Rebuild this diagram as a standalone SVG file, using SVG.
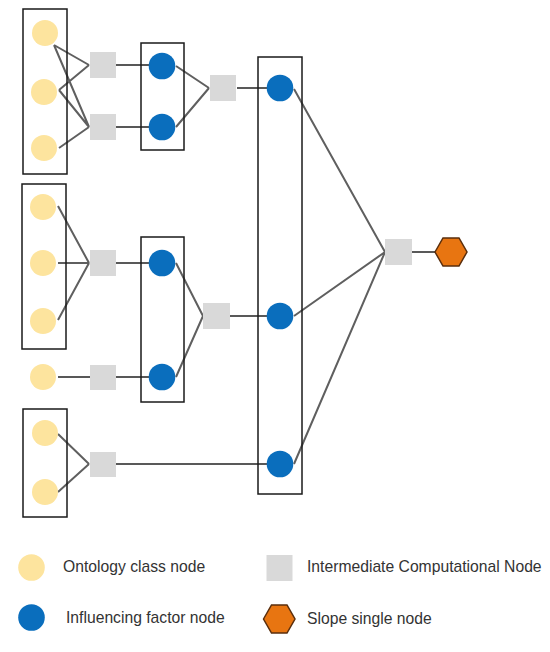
<svg xmlns="http://www.w3.org/2000/svg" width="550" height="652" viewBox="0 0 550 652">
<style>
.box{fill:none;stroke:#1a1a1a;stroke-width:1.5}
.onto{fill:#FDE49E}
.inf{fill:#0A6EBD}
.icn{fill:#D9D9D9}
.slope{fill:#E87511;stroke:#5A2E0C;stroke-width:1.5}
.c{fill:none;stroke:#5f5f5f;stroke-width:2}
.s{fill:none;stroke:#222;stroke-width:1.5}
text{font-family:"Liberation Sans",Arial,sans-serif;font-size:15.7px;fill:#333}
</style>
<rect width="550" height="652" fill="#fff"/>
<g id="connectors">
<path class="c" d="M54,45 L89,65 M54,45 L89,127 M59,90 L89,65 M59,90 L89,127 M59,148 L89,127"/>
<path class="s" d="M116,65 H149 M116,127 H149"/>
<path class="c" d="M176,66 L209,88 M176,127 L209,88"/>
<path class="s" d="M237,88 H267"/>
<path class="c" d="M58,206 L89,263 M58,263 L89,263 M58,320 L89,263"/>
<path class="s" d="M116,263 H149"/>
<path class="s" d="M58,377 H90 M116,377 H149"/>
<path class="c" d="M176,263 L203,316 M176,377 L203,316"/>
<path class="s" d="M230,316 H267"/>
<path class="c" d="M58,434 L89,464 M58,492 L89,464"/>
<path class="s" d="M116,464 H267"/>
<path class="c" d="M294,89 L385,252 M294,316 L385,252 M294,464 L385,252"/>
<path class="s" d="M412,252 H436"/>
</g>
<g id="group1">
<rect class="box" x="23" y="9" width="44" height="165"/>
<circle class="onto" cx="45" cy="33" r="13"/>
<circle class="onto" cx="44" cy="92" r="13"/>
<circle class="onto" cx="44" cy="148" r="13"/>
</g>
<g id="icn1"><rect class="icn" x="90" y="52" width="26" height="26"/></g>
<g id="icn2"><rect class="icn" x="90" y="114" width="26" height="26"/></g>
<g id="group2">
<rect class="box" x="141" y="43" width="43" height="107"/>
<circle class="inf" cx="162" cy="66" r="13.3"/>
<circle class="inf" cx="162" cy="127" r="13.3"/>
</g>
<g id="icn3"><rect class="icn" x="210" y="75" width="26" height="26"/></g>
<g id="group3">
<rect class="box" x="22" y="184" width="44" height="165"/>
<circle class="onto" cx="43" cy="207" r="13"/>
<circle class="onto" cx="43" cy="263" r="13"/>
<circle class="onto" cx="43" cy="321" r="13"/>
</g>
<g id="icn4"><rect class="icn" x="90" y="250" width="26" height="26"/></g>
<g id="onto-single"><circle class="onto" cx="43" cy="377" r="13"/></g>
<g id="icn5"><rect class="icn" x="90" y="365" width="26" height="25"/></g>
<g id="group4">
<rect class="box" x="141" y="237" width="43" height="165"/>
<circle class="inf" cx="162" cy="263" r="13.3"/>
<circle class="inf" cx="162" cy="377" r="13.3"/>
</g>
<g id="icn6"><rect class="icn" x="203" y="303" width="27" height="26"/></g>
<g id="group5">
<rect class="box" x="23" y="409" width="44" height="108"/>
<circle class="onto" cx="45" cy="433" r="13"/>
<circle class="onto" cx="45" cy="492" r="13"/>
</g>
<g id="icn7"><rect class="icn" x="90" y="452" width="26" height="25"/></g>
<g id="group6">
<rect class="box" x="258" y="57" width="44" height="437"/>
<circle class="inf" cx="280" cy="88" r="13.3"/>
<circle class="inf" cx="280" cy="316" r="13.3"/>
<circle class="inf" cx="280" cy="464" r="13.3"/>
</g>
<g id="icn8"><rect class="icn" x="385" y="239" width="27" height="26"/></g>
<g id="slope"><polygon class="slope" points="435,252 443,238 459,238 467,252 459,266 443,266"/></g>
<g id="legend">
<circle class="onto" cx="31.5" cy="567.5" r="13.3"/>
<text x="63" y="572">Ontology class node</text>
<rect class="icn" x="266.5" y="555" width="26" height="26"/>
<text x="307" y="572">Intermediate Computational Node</text>
<circle class="inf" cx="31.5" cy="617.5" r="13.3"/>
<text x="66" y="622.5">Influencing factor node</text>
<polygon class="slope" points="263.5,619 271.5,605 287,605 295,619 287,633 271.5,633"/>
<text x="307" y="623.5">Slope single node</text>
</g>
</svg>
